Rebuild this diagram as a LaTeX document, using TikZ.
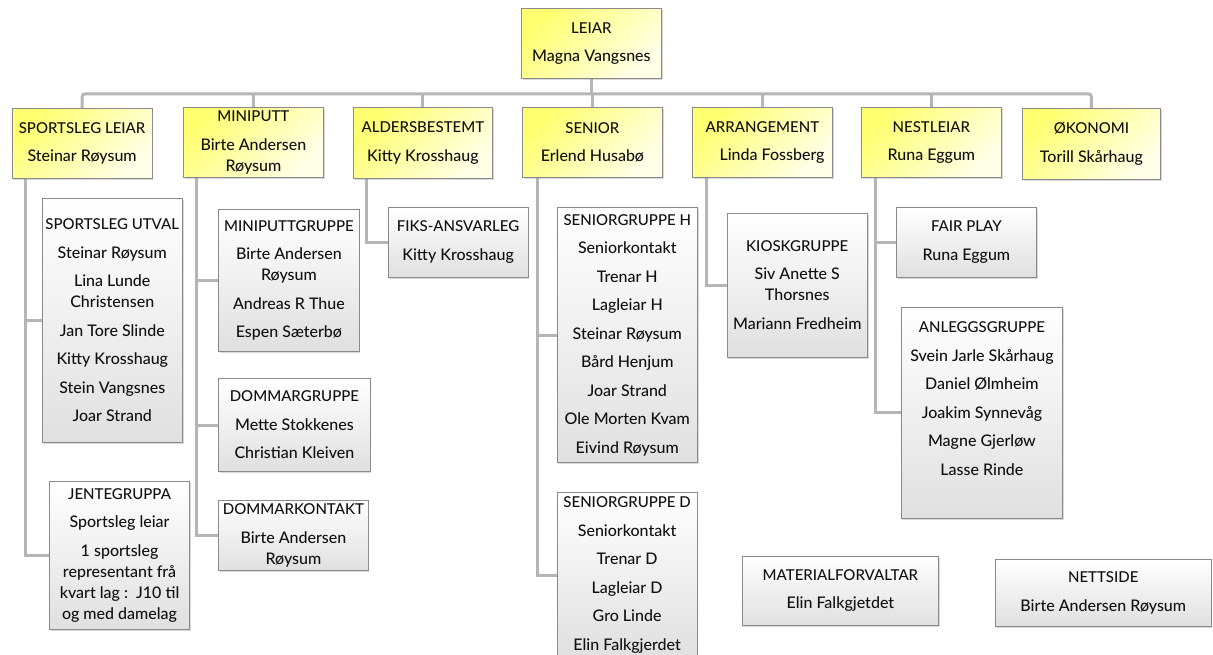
\documentclass[tikz,border=0pt]{standalone}
\usepackage{fontspec}
\setmainfont{Lato Medium}
\usetikzlibrary{shadows,backgrounds}
\definecolor{linecol}{HTML}{B5B5B5}
\definecolor{boxline}{HTML}{8A8A8A}
\definecolor{yelA}{HTML}{FFFF70}
\definecolor{yelB}{HTML}{FFFFE8}
\definecolor{grayB}{HTML}{E0E0E0}
\definecolor{txt}{HTML}{111111}
\newcommand\pg{\\[7.5pt]}
\newcommand\ttl[1]{{\fontsize{15}{21}\selectfont #1}}
\newcommand\orgbox[8]{%
  \node[#1, minimum width={(#5)-(#3)}, minimum height={(#6)-(#4)}] (#2) at (#3,-#4) {\ttl{#7}\pg #8};}
\tikzset{
  basebox/.style={draw=boxline, line width=0.8pt, anchor=north west, inner sep=0pt,
    align=center, text=txt, font=\fontsize{16}{21}\selectfont,
    drop shadow={shadow xshift=1.2pt, shadow yshift=-1.6pt, opacity=0.3}},
  ybox/.style={basebox, top color=yelA, bottom color=yelB, shading angle=45},
  gbox/.style={basebox, top color=white, bottom color=grayB},
  conn/.style={draw=linecol, line width=3pt},
}
\begin{document}
\begin{tikzpicture}[x=1pt, y=1pt]
\useasboundingbox (0,0) rectangle (1213,-655);
% top level
\orgbox{ybox}{leiar}{521}{8}{661}{78}{LEIAR}{Magna Vangsnes}
\orgbox{ybox}{sl}{11.7}{108}{151.7}{178}{SPORTSLEG LEIAR}{Steinar Røysum}
\orgbox{ybox}{mini}{183}{107}{323}{177}{MINIPUTT}{Birte Andersen\\Røysum}
\orgbox{ybox}{alders}{353}{107.5}{492}{178}{ALDERSBESTEMT}{Kitty Krosshaug}
\orgbox{ybox}{senior}{522}{107}{662}{177}{SENIOR}{Erlend Husabø}
\orgbox{ybox}{arr}{692}{107}{832}{177}{ARRANGEMENT}{\hspace*{1.2em}Linda Fossberg}
\orgbox{ybox}{nest}{861}{107}{1001}{177}{NESTLEIAR}{Runa Eggum}
\orgbox{ybox}{okon}{1022}{108}{1160}{179}{ØKONOMI}{Torill Skårhaug}
% groups
\orgbox{gbox}{utval}{41.7}{198.3}{182}{442}{SPORTSLEG UTVAL}{Steinar Røysum\pg Lina Lunde\\Christensen\pg Jan Tore Slinde\pg Kitty Krosshaug\pg Stein Vangsnes\pg Joar Strand}
\orgbox{gbox}{jente}{49}{480.7}{189.3}{629.3}{JENTEGRUPPA}{Sportsleg leiar\pg 1 sportsleg\\representant frå\\kvart lag :~~J10 til\\og med damelag}
\orgbox{gbox}{mpg}{218.3}{209.3}{358.7}{351}{MINIPUTTGRUPPE}{Birte Andersen\\Røysum\pg Andreas R Thue\pg Espen Sæterbø}
\orgbox{gbox}{domg}{218.3}{378.3}{369.7}{471}{DOMMARGRUPPE}{Mette Stokkenes\pg Christian Kleiven}
\orgbox{gbox}{domk}{218.3}{500}{367.7}{570}{DOMMARKONTAKT}{Birte Andersen\\Røysum}
\orgbox{gbox}{fiks}{387.7}{207}{527.7}{276.7}{FIKS-ANSVARLEG}{Kitty Krosshaug}
\orgbox{gbox}{senh}{556.7}{207}{697}{462.3}{SENIORGRUPPE H}{Seniorkontakt\pg Trenar H\pg Lagleiar H\pg Steinar Røysum\pg Bård Henjum\pg Joar Strand\pg Ole Morten Kvam\pg Eivind Røysum}
\orgbox{gbox}{send}{556.7}{492.3}{696.7}{657}{SENIORGRUPPE D}{Seniorkontakt\pg Trenar D\pg Lagleiar D\pg Gro Linde\pg Elin Falkgjerdet}
\orgbox{gbox}{kiosk}{726.7}{212.7}{867}{356.7}{KIOSKGRUPPE}{Siv Anette S\\Thorsnes\pg Mariann Fredheim}
\orgbox{gbox}{fair}{896}{207}{1036}{276.7}{FAIR PLAY}{Runa Eggum}
\orgbox{gbox}{anl}{900.7}{306.7}{1062.3}{518.3}{ANLEGGSGRUPPE}{Svein Jarle Skårhaug\pg Daniel Ølmheim\pg Joakim Synnevåg\pg Magne Gjerløw\pg Lasse Rinde\pg\mbox{}}
\orgbox{gbox}{mat}{741.7}{555.7}{938.3}{625}{MATERIALFORVALTAR}{Elin Falkgjetdet}
\orgbox{gbox}{nett}{995}{559}{1210.7}{625.7}{NETTSIDE}{Birte Andersen Røysum}
% connectors
\begin{scope}[on background layer]
  \draw[conn] (leiar.south) -- ++(0,-15) coordinate (bar);
  \draw[conn, rounded corners=3pt] (sl.north) |- (bar) -| (okon.north);
  \foreach \n in {mini,alders,senior,arr,nest}
    \draw[conn] (\n.north) -- (\n.north |- bar);
  \draw[conn] (sl.south west) ++(13.3,0) |- (utval.west);
  \draw[conn] (sl.south west) ++(13.3,0) |- (jente.west);
  \draw[conn] (mini.south west) ++(13.7,0) |- (mpg.west);
  \draw[conn] (mini.south west) ++(13.7,0) |- (domg.west);
  \draw[conn] (mini.south west) ++(13.7,0) |- (domk.west);
  \draw[conn] (alders.south west) ++(13.7,0) |- (fiks.west);
  \draw[conn] (senior.south west) ++(15,0) |- (senh.west);
  \draw[conn] (senior.south west) ++(15,0) |- (send.west);
  \draw[conn] (arr.south west) ++(14,0) |- (kiosk.west);
  \draw[conn] (nest.south west) ++(14,0) |- (fair.west);
  \draw[conn] (nest.south west) ++(14,0) |- (anl.west);
\end{scope}
\end{tikzpicture}
\end{document}
